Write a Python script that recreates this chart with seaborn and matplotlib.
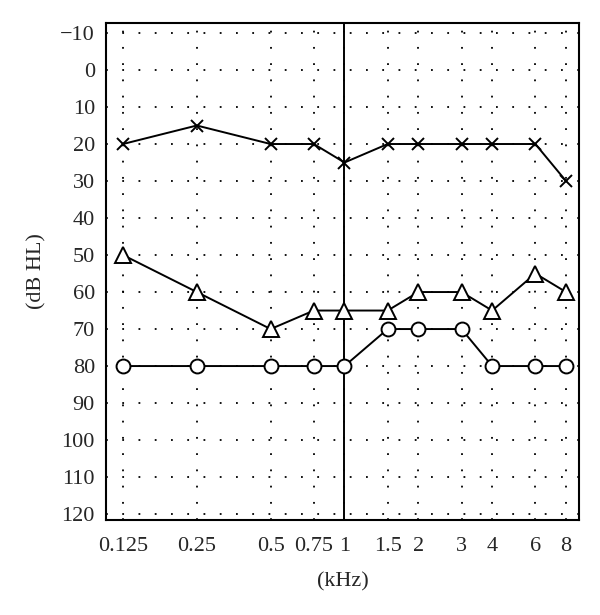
import numpy as np
import pandas as pd
import matplotlib
matplotlib.use("Agg")
import matplotlib.pyplot as plt
import seaborn as sns

# frequencies (kHz) and thresholds (dB HL)
freqs = [0.125, 0.25, 0.5, 0.75, 1, 1.5, 2, 3, 4, 6, 8]
tick_labels = ["0.125", "0.25", "0.5", "0.75", "1", "1.5", "2", "3", "4", "6", "8"]
cross_db = [20, 15, 20, 20, 25, 20, 20, 20, 20, 20, 30]
triangle_db = [50, 60, 70, 65, 65, 65, 60, 60, 65, 55, 60]
circle_db = [80, 80, 80, 80, 80, 70, 70, 70, 80, 80, 80]
y_ticks = list(range(-10, 121, 10))

df = pd.DataFrame({"freq": freqs * 3,
                   "db": cross_db + triangle_db + circle_db,
                   "series": ["x"] * 11 + ["tri"] * 11 + ["circ"] * 11})

sns.set_style("white")
plt.rcParams['font.family'] = ['Liberation Serif', 'DejaVu Serif']

fig = plt.figure(figsize=(6, 6.15), dpi=100)
ax = fig.add_axes([106 / 600, 1 - 520 / 615, 473 / 600, 497 / 615])

ax.set_xscale("log", base=2)

# dotted grid under the data
dots = (0, (1, 8))
for f in freqs:
    ax.axvline(f, color="black", linestyle=dots, linewidth=1.3, zorder=0)
for y in y_ticks:
    ax.axhline(y, color="black", linestyle=dots, linewidth=1.3, zorder=0)
ax.axvline(1, color="black", linewidth=1.4, zorder=1)

sub = df[df.series == "x"]
sns.lineplot(x="freq", y="db", data=sub, ax=ax, color="black", linewidth=1.4,
             marker="x", markersize=8, markeredgecolor="black",
             markeredgewidth=1.4, zorder=3)
sub = df[df.series == "tri"]
sns.lineplot(x="freq", y="db", data=sub, ax=ax, color="black", linewidth=1.4,
             marker="^", markersize=11, markerfacecolor="white",
             markeredgecolor="black", markeredgewidth=1.4, zorder=3)
sub = df[df.series == "circ"]
sns.lineplot(x="freq", y="db", data=sub, ax=ax, color="black", linewidth=1.4,
             marker="o", markersize=10, markerfacecolor="white",
             markeredgecolor="black", markeredgewidth=1.4, zorder=3)

ax.set_xlim(0.125 * 2 ** -0.23, 8 * 2 ** 0.176)
ax.set_ylim(121.6, -12.7)
ax.set_xticks(freqs)
ax.set_xticklabels(tick_labels)
ax.minorticks_off()
ax.set_yticks(y_ticks)
ax.set_yticklabels([str(v).replace("-", "\u2212") for v in y_ticks])
ax.tick_params(labelsize=16, length=0)
ax.tick_params(axis="x", pad=12)
ax.tick_params(axis="y", pad=8)

ax.set_xlabel("(kHz)", fontsize=16, labelpad=12)
ax.set_ylabel("(dB HL)", fontsize=16, labelpad=10)

for s in ax.spines.values():
    s.set_linewidth(1.5)
    s.set_color("black")

fig.savefig("out.png", dpi=100)
